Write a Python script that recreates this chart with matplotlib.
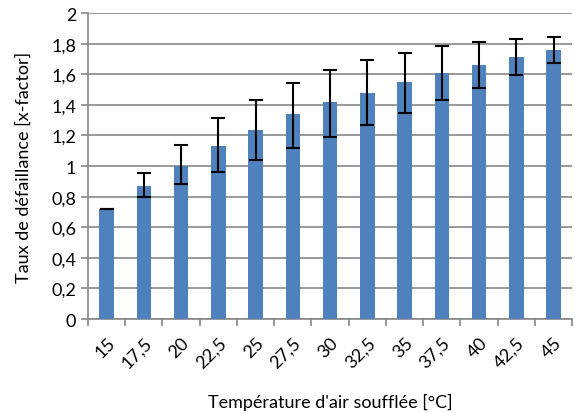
import numpy as np
import matplotlib.pyplot as plt

plt.rcParams['font.family'] = ['Lato', 'DejaVu Sans']

temps = ['15', '17,5', '20', '22,5', '25', '27,5', '30', '32,5', '35', '37,5', '40', '42,5', '45']
taux = [0.72, 0.867, 1.002, 1.131, 1.238, 1.338, 1.417, 1.478, 1.55, 1.611, 1.659, 1.712, 1.76]
err_bas = [0.72, 0.799, 0.88, 0.958, 1.039, 1.12, 1.19, 1.271, 1.349, 1.432, 1.511, 1.592, 1.672]
err_haut = [0.72, 0.952, 1.14, 1.312, 1.432, 1.541, 1.631, 1.69, 1.742, 1.782, 1.812, 1.83, 1.841]

taux = np.array(taux)
yerr = [taux - np.array(err_bas), np.array(err_haut) - taux]
x = np.arange(len(temps))

fig = plt.figure(figsize=[5.75, 4.14], dpi=100)
ax = fig.add_axes([0.153, 0.227, 0.842, 0.739])

gris = '#878787'
ax.bar(x, taux, width=0.39, color='#4F81BD', zorder=3)
ax.errorbar(x, taux, yerr=yerr, fmt='none', ecolor='black', elinewidth=1.5,
            capsize=4.8, capthick=1.5, zorder=4)

ax.set_xlim(-0.5, len(temps) - 0.5)
ax.set_ylim(0, 2)
yt = np.arange(0, 2.01, 0.2)
ax.set_yticks(yt)
ax.set_yticklabels([('%.1f' % v).replace('.0', '').replace('.', ',') for v in yt])
ax.yaxis.grid(True, color=gris, linewidth=1.2, zorder=0)

ax.set_xticks(x)
ax.set_xticklabels(temps, rotation=45, ha='right', rotation_mode='anchor')
ax.set_xticks(np.arange(-0.5, len(temps)), minor=True)
ax.tick_params(axis='x', which='major', length=0, labelsize=13, pad=11)
ax.tick_params(axis='x', which='minor', length=5, color=gris, width=1.2)
ax.tick_params(axis='y', length=5, color=gris, width=1.2, labelsize=13)

for s in ['top', 'right']:
    ax.spines[s].set_visible(False)
for s in ['left', 'bottom']:
    ax.spines[s].set_color(gris)
    ax.spines[s].set_linewidth(1.2)

ax.set_ylabel('Taux de défaillance [x-factor]', fontsize=13, labelpad=14)
ax.set_xlabel("Température d'air soufflée [°C]", fontsize=13, labelpad=16)

fig.savefig('out.png', dpi=100)
